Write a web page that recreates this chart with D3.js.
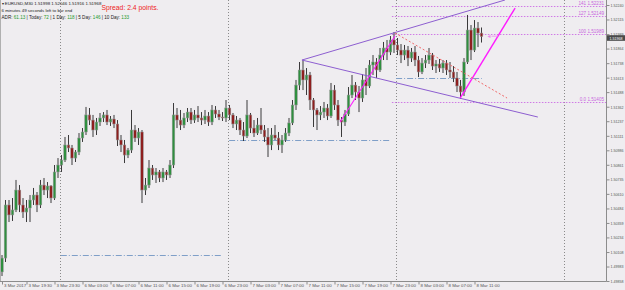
<!DOCTYPE html>
<html><head><meta charset="utf-8">
<script src="https://cdn.jsdelivr.net/npm/d3@7"></script>
<style>
body{margin:0;background:#efedf0}
svg{display:block;font-family:"Liberation Sans",Arial,sans-serif}
</style>
</head><body><svg id="c" width="625" height="290"></svg>
<script>
// ---- data: EURUSD M30 candles ----
const opens=[1.49936,1.50056,1.50514,1.50428,1.50471,1.50643,1.50514,1.50453,1.50488,1.50557,
1.50600,1.50514,1.50686,1.50643,1.50678,1.50574,1.50799,1.50859,1.50902,1.51032,
1.51006,1.50919,1.50971,1.51092,1.51144,1.51291,1.51247,1.51161,1.51230,1.51265,
1.51291,1.51230,1.51256,1.51213,1.51075,1.51032,1.50945,1.50988,1.51161,1.51092,
1.51144,1.50643,1.50686,1.50833,1.50773,1.50799,1.50747,1.50799,1.50773,1.50859,
1.51291,1.51247,1.51204,1.51265,1.51316,1.51247,1.51291,1.51265,1.51247,1.51282,
1.51230,1.51334,1.51299,1.51273,1.51265,1.51351,1.51291,1.51213,1.51247,1.51161,
1.51109,1.51291,1.51178,1.51135,1.51204,1.51161,1.51101,1.51032,1.51118,1.51092,
1.51032,1.51075,1.51135,1.51222,1.51377,1.51549,1.51679,1.51593,1.51636,1.51420,
1.51334,1.51291,1.51316,1.51351,1.51282,1.51506,1.51377,1.51247,1.51230,1.51299,
1.51463,1.51549,1.51489,1.51437,1.51593,1.51541,1.51722,1.51748,1.51679,1.51808,
1.51869,1.51834,1.51938,1.51895,1.51851,1.51808,1.51851,1.51782,1.51834,1.51765,
1.51662,1.51739,1.51765,1.51808,1.51713,1.51731,1.51696,1.51739,1.51679,1.51662,
1.51610,1.51541,1.51489,1.51748,1.52024,1.51851,1.52041,1.51998];
const highs=[1.50082,1.50557,1.50557,1.50574,1.50730,1.50686,1.50574,1.50557,1.50600,1.50661,
1.50626,1.50730,1.50747,1.50712,1.50686,1.50859,1.50919,1.50945,1.51101,1.51118,
1.51032,1.50988,1.51135,1.51178,1.51360,1.51351,1.51291,1.51265,1.51308,1.51316,
1.51334,1.51282,1.51291,1.51247,1.51118,1.51075,1.51006,1.51334,1.51204,1.51178,
1.51161,1.50747,1.50902,1.50859,1.50833,1.50816,1.50833,1.50816,1.50902,1.51394,
1.51351,1.51334,1.51308,1.51351,1.51351,1.51334,1.51368,1.51316,1.51334,1.51316,
1.51377,1.51368,1.51334,1.51316,1.51420,1.51377,1.51308,1.51282,1.51265,1.51230,
1.51420,1.51308,1.51247,1.51265,1.51351,1.51204,1.51178,1.51178,1.51204,1.51144,
1.51118,1.51178,1.51265,1.51420,1.51593,1.51748,1.51765,1.51696,1.51662,1.51437,
1.51351,1.51368,1.51403,1.51385,1.51567,1.51549,1.51420,1.51273,1.51334,1.51532,
1.51636,1.51575,1.51541,1.51644,1.51696,1.51765,1.51808,1.51782,1.51869,1.51921,
1.51938,1.51972,1.52007,1.51955,1.51903,1.51895,1.51886,1.51869,1.51886,1.51800,
1.51782,1.51808,1.51869,1.51826,1.51765,1.51774,1.51765,1.51765,1.51748,1.51713,
1.51662,1.51593,1.51782,1.52154,1.52067,1.52110,1.52093,1.52046];
const lows=[1.49901,1.50022,1.50367,1.50376,1.50453,1.50453,1.50402,1.50367,1.50367,1.50514,
1.50453,1.50488,1.50600,1.50574,1.50531,1.50557,1.50747,1.50799,1.50885,1.50971,
1.50859,1.50885,1.50945,1.51058,1.51118,1.51204,1.51101,1.51118,1.51196,1.51230,
1.51204,1.51196,1.51178,1.51023,1.50971,1.50876,1.50919,1.50963,1.51058,1.51032,
1.50531,1.50600,1.50661,1.50730,1.50704,1.50712,1.50712,1.50730,1.50747,1.50833,
1.51178,1.51161,1.51178,1.51230,1.51213,1.51222,1.51230,1.51204,1.51213,1.51196,
1.51204,1.51265,1.51247,1.51239,1.51230,1.51247,1.51178,1.51161,1.51118,1.51066,
1.51092,1.51135,1.51101,1.51118,1.51127,1.51058,1.50928,1.50988,1.51075,1.50988,
1.50963,1.51058,1.51109,1.51204,1.51334,1.51506,1.51506,1.51463,1.51334,1.51187,
1.51161,1.51247,1.51265,1.51247,1.51265,1.51334,1.51196,1.51101,1.51196,1.51282,
1.51437,1.51420,1.51316,1.51403,1.51463,1.51524,1.51636,1.51610,1.51662,1.51765,
1.51765,1.51808,1.51826,1.51808,1.51739,1.51765,1.51713,1.51748,1.51713,1.51618,
1.51644,1.51696,1.51731,1.51679,1.51653,1.51662,1.51653,1.51636,1.51610,1.51575,
1.51489,1.51429,1.51455,1.51731,1.51765,1.51834,1.51877,1.51916];
const closes=[1.50056,1.50514,1.50428,1.50471,1.50643,1.50514,1.50453,1.50488,1.50557,1.50600,
1.50514,1.50686,1.50643,1.50678,1.50574,1.50799,1.50859,1.50902,1.51032,1.51006,
1.50919,1.50971,1.51092,1.51144,1.51291,1.51247,1.51161,1.51230,1.51265,1.51291,
1.51230,1.51256,1.51213,1.51075,1.51032,1.50945,1.50988,1.51161,1.51092,1.51144,
1.50643,1.50686,1.50833,1.50773,1.50799,1.50747,1.50799,1.50773,1.50859,1.51291,
1.51247,1.51204,1.51265,1.51316,1.51247,1.51291,1.51265,1.51247,1.51282,1.51230,
1.51334,1.51299,1.51273,1.51265,1.51351,1.51291,1.51213,1.51247,1.51161,1.51109,
1.51291,1.51178,1.51135,1.51204,1.51161,1.51101,1.51032,1.51118,1.51092,1.51032,
1.51075,1.51135,1.51222,1.51377,1.51549,1.51679,1.51593,1.51636,1.51420,1.51334,
1.51291,1.51316,1.51351,1.51282,1.51506,1.51377,1.51247,1.51230,1.51299,1.51463,
1.51549,1.51489,1.51437,1.51593,1.51541,1.51722,1.51748,1.51679,1.51808,1.51869,
1.51834,1.51938,1.51895,1.51851,1.51808,1.51851,1.51782,1.51834,1.51765,1.51662,
1.51739,1.51765,1.51808,1.51713,1.51731,1.51696,1.51739,1.51679,1.51662,1.51610,
1.51541,1.51489,1.51748,1.52024,1.51851,1.52041,1.51998,1.51968];

const timeLabels=["3 Mar 2017","3 Mar 19:30","3 Mar 23:30","6 Mar 03:00","6 Mar 07:00","6 Mar 11:00",
"6 Mar 15:00","6 Mar 19:00","6 Mar 23:00","7 Mar 03:00","7 Mar 07:00","7 Mar 11:00","7 Mar 15:00",
"7 Mar 19:00","7 Mar 23:00","8 Mar 03:00","8 Mar 07:00","8 Mar 11:00"];
const timeIdx=[0,7,15,23,31,39,47,55,63,71,79,87,95,103,111,119,127,135];
const priceTicks=[1.52240,1.52115,1.51989,1.51864,1.51738,1.51613,1.51488,1.51362,1.51237,1.51111,
1.50986,1.50861,1.50735,1.50610,1.50484,1.50359,1.50234,1.50108,1.49983,1.49858];
const lastPrice=1.51968;
const separators=[16.6,64.6,112.6,160.6];
const dayLevelFrom=[16.8,64.9,112.6];
const dayLevelTo=[62.9,111.1,137.1];
const dayLevelPrice=[1.50083,1.51075,1.51610];
const fibNames=["141","127","100","0.0"];
const fibPrices=[1.52231,1.52149,1.51989,1.51405];
const fibStart=111.4;
const channelLines=[[[85.7,1.51765],[143.7,1.52283]],[[85.7,1.51765],[153.1,1.51273]]];
const magentaLines=[[[96.6,1.51230],[112.3,1.51972]],[[130.9,1.51437],[146.6,1.52214]]];
const redLine=[[112.3,1.51998],[144.3,1.51437]];

// ---- drawing ----
const W=625,H=290,R=606,B=281;
const svg=d3.select("#c");
const x=d3.scaleLinear().domain([0,172]).range([2,604]);
const y=d3.scaleLinear().domain([1.49858,1.52240]).range([281,5]);
svg.append("rect").attr("width",W).attr("height",H).attr("fill","#efedf0");
svg.append("defs").append("clipPath").attr("id","clip").append("rect").attr("x",0).attr("y",0).attr("width",R).attr("height",B);
const g=svg.append("g").attr("clip-path","url(#clip)");

// day separators
g.selectAll(".sep").data(separators).join("line")
 .attr("x1",d=>Math.round(x(d))+0.5).attr("x2",d=>Math.round(x(d))+0.5).attr("y1",0).attr("y2",B)
 .attr("stroke","#8a8a8a").attr("stroke-width",1).attr("stroke-dasharray","1,2");

// day level lines
g.selectAll(".dl").data(dayLevelPrice).join("line")
 .attr("x1",(d,i)=>x(dayLevelFrom[i])).attr("x2",(d,i)=>x(dayLevelTo[i]))
 .attr("y1",d=>Math.round(y(d))+0.5).attr("y2",d=>Math.round(y(d))+0.5)
 .attr("stroke","#7f9fc8").attr("stroke-width",1).attr("stroke-dasharray","6,2,1,2");

// fib levels
g.selectAll(".fib").data(fibPrices).join("line")
 .attr("x1",x(fibStart)).attr("x2",R).attr("y1",d=>Math.round(y(d))+0.5).attr("y2",d=>Math.round(y(d))+0.5)
 .attr("stroke","#d07ae6").attr("stroke-width",1).attr("stroke-dasharray","1.5,1.5");
g.selectAll(".fibt").data(fibPrices).join("text")
 .attr("x",604).attr("y",d=>y(d)-0.6).attr("text-anchor","end")
 .attr("font-size",4.6).attr("fill","#c865de")
 .text((d,i)=>fibNames[i]+"  "+d.toFixed(5));

// candles
const bars=d3.range(opens.length);
g.selectAll(".wick").data(bars).join("line")
 .attr("x1",i=>x(i)).attr("x2",i=>x(i)).attr("y1",i=>y(highs[i])).attr("y2",i=>y(lows[i]))
 .attr("stroke","#262626").attr("stroke-width",0.9);
g.selectAll(".body").data(bars).join("rect")
 .attr("x",i=>x(i)-1.3).attr("width",2.6)
 .attr("y",i=>y(Math.max(opens[i],closes[i])))
 .attr("height",i=>Math.max(0.8,Math.abs(y(opens[i])-y(closes[i]))))
 .attr("fill",i=>closes[i]>=opens[i]?"#2f8f3f":"#8e1f1f")
 .attr("stroke","#9a9a9a").attr("stroke-width",0.5);

// trend lines
const L=d3.line().x(d=>x(d[0])).y(d=>y(d[1]));
g.selectAll(".ch").data(channelLines).join("path").attr("d",L).attr("fill","none")
 .attr("stroke","#8d5ed0").attr("stroke-width",1);
g.selectAll(".mg").data(magentaLines).join("path").attr("d",L).attr("fill","none")
 .attr("stroke","#ff1aff").attr("stroke-width",(d,i)=>i?1.4:1.1);
g.append("path").attr("d",L(redLine)).attr("fill","none").attr("stroke","#f06a6a")
 .attr("stroke-width",1).attr("stroke-dasharray","2,2");
// small price arrow marker
g.append("text").attr("x",x(137)+5).attr("y",y(lastPrice)+1.5).attr("font-size",5).attr("fill","#ee88ee").text("◄══");

// frame
svg.append("line").attr("x1",0.5).attr("x2",0.5).attr("y1",0).attr("y2",B).attr("stroke","#b0b0b0");
svg.append("line").attr("x1",R+0.5).attr("x2",R+0.5).attr("y1",0).attr("y2",B+0.5).attr("stroke","#8c8c8c");
svg.append("line").attr("x1",0).attr("x2",R+0.5).attr("y1",B+0.5).attr("y2",B+0.5).attr("stroke","#8c8c8c");

// price axis
const ya=svg.append("g").attr("transform",`translate(${R+0.5},0)`)
 .call(d3.axisRight(y).tickValues(priceTicks).tickSize(3).tickFormat(d3.format(".5f")));
ya.select(".domain").remove();
ya.selectAll("line").attr("stroke","#8c8c8c");
ya.selectAll("text").attr("x",4).attr("font-size",4.2).attr("fill","#555")
 .attr("textLength",13).attr("lengthAdjust","spacingAndGlyphs")
 .attr("font-family","Liberation Sans, Arial, sans-serif");
// current price box (sits just below the 1.51989 label, as in the reference)
const boxTop=y(lastPrice)-1.3;
svg.append("rect").attr("x",R+1).attr("y",boxTop).attr("width",18).attr("height",5.6).attr("fill","#4a4a4a");
svg.append("text").attr("x",R+3.5).attr("y",boxTop+4.3).attr("font-size",4.2).attr("fill","#fff")
 .attr("textLength",13).attr("lengthAdjust","spacingAndGlyphs").text(lastPrice.toFixed(5));

// time axis
const xa=svg.append("g").attr("transform",`translate(0,${B+0.5})`)
 .call(d3.axisBottom(x).tickValues(timeIdx).tickSize(3).tickFormat((d,i)=>timeLabels[i]));
xa.select(".domain").remove();
xa.selectAll("line").attr("stroke","#8c8c8c");
xa.selectAll("text").attr("x",1.5).attr("y",2.4).attr("text-anchor","start").attr("font-size",4.4)
 .attr("fill","#555").attr("font-family","Liberation Sans, Arial, sans-serif");

// header
const hd=svg.append("g").attr("font-size",4.4).attr("fill","#222");
hd.append("text").attr("x",1.5).attr("y",5).text("▾ EURUSD,M30  1.51998 1.52046 1.51916 1.51968");
hd.append("text").attr("x",1.5).attr("y",11.5).text("6 minutes 49 seconds left to bar end");
svg.append("text").attr("x",101.5).attr("y",9.8).attr("font-size",7.4).attr("fill","#ee2222")
 .attr("textLength",57).attr("lengthAdjust","spacingAndGlyphs").text("Spread: 2.4 points.");
const adrLabels=["ADR: ","  |  Today: ","  |  1 Day: ","  |  5 Day: ","  |  10 Day: "];
const adrValues=["61.13","72","118","146","133"];
const adr=svg.append("text").attr("x",1.5).attr("y",18.5).attr("font-size",4.6).attr("fill","#222");
adrLabels.forEach((l,i)=>{adr.append("tspan").text(l);adr.append("tspan").attr("fill","#1e9a2e").text(adrValues[i]);});
</script></body></html>
